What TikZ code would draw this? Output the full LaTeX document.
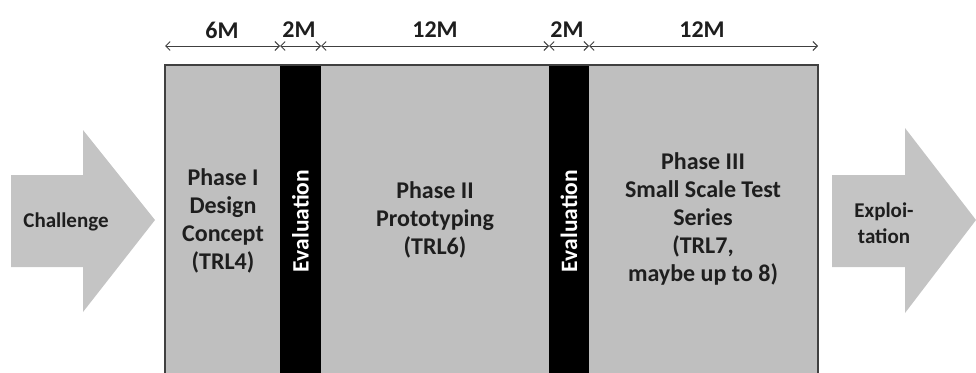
\documentclass[tikz,border=0pt]{standalone}
\usepackage{fontspec}
\setmainfont{Carlito}
\usetikzlibrary{arrows.meta}
\definecolor{boxgray}{HTML}{BFBFBF}
\definecolor{arrgray}{HTML}{C4C4C4}
\definecolor{edge}{HTML}{404040}
\definecolor{txt}{HTML}{1E1E1E}
\tikzset{
  lbl/.style={font=\bfseries\fontsize{24}{28}\selectfont, text=txt, align=center, inner sep=0pt},
  arrlbl/.style={font=\bfseries\fontsize{21}{26}\selectfont, text=txt, align=center, inner sep=0pt},
  toplbl/.style={font=\bfseries\fontsize{24}{28}\selectfont, text=txt, inner sep=0pt},
  evl/.style={font=\bfseries\fontsize{23.5}{28}\selectfont, text=white, rotate=90, inner sep=0pt},
  dim/.style={draw=edge, line width=0.9pt, {Straight Barb[length=4.5pt,width=9pt]}-{Straight Barb[length=4.5pt,width=9pt]}},
}
\begin{document}
\begin{tikzpicture}[x=1pt,y=-1pt]
\useasboundingbox (0,0) rectangle (976,372);
% big arrows
\fill[arrgray] (11,175) -- (83,175) -- (83,130) -- (155,220) -- (83,312) -- (83,267) -- (11,267) -- cycle;
\fill[arrgray] (832,175) -- (905,175) -- (905,128) -- (976,220) -- (905,313) -- (905,267) -- (832,267) -- cycle;
\node[arrlbl] (chal) at (66,222) {Challenge};
\node[arrlbl] (expl) at (884,223) {Exploi-\\tation};
% main box
\fill[boxgray] (165,65) rectangle (818,373);
\fill[black] (280,65) rectangle (321,373);
\fill[black] (549,65) rectangle (589,373);
\draw[edge, line width=1.6pt] (165,374) -- (165,65) -- (818,65) -- (818,374);
% texts
\node[lbl] (p1) at (223,221) {Phase I\\Design\\Concept\\(TRL4)};
\node[evl] (e1) at (300.5,221) {Evaluation};
\node[lbl] (p2) at (435,220) {Phase II\\Prototyping\\(TRL6)};
\node[evl] (e2) at (569,221) {Evaluation};
\node[lbl] (p3) at (703,219) {Phase III\\Small Scale Test\\Series\\(TRL7,\\maybe up to 8)};
% dimension arrows
\coordinate (t0) at (165,46);
\coordinate (t1) at (280,46);
\coordinate (t2) at (321,46);
\coordinate (t3) at (549,46);
\coordinate (t4) at (589,46);
\coordinate (t5) at (818,46);
\draw[dim] (t0) -- (t1);
\draw[dim] (t1) -- (t2);
\draw[dim] (t2) -- (t3);
\draw[dim] (t3) -- (t4);
\draw[dim] (t4) -- (t5);
\node[toplbl] (m1) at (222,30) {6M};
\node[toplbl] (m2) at (299,30) {2M};
\node[toplbl] (m3) at (435,30) {12M};
\node[toplbl] (m4) at (567,30) {2M};
\node[toplbl] (m5) at (702,30) {12M};
\end{tikzpicture}
\end{document}
